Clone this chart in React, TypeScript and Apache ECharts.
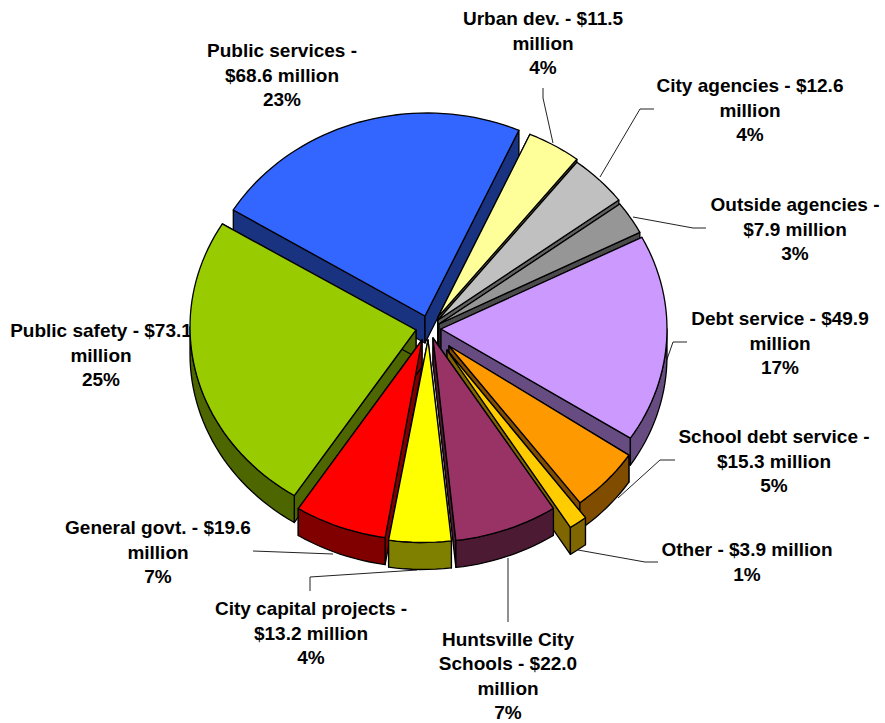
import React, { useEffect, useRef } from "react";
import * as echarts from "echarts";

// Data, clockwise from the top of the pie
const names = ["Urban dev.", "City agencies", "Outside agencies", "Debt service", "School debt service", "Other", "Huntsville City Schools", "City capital projects", "General govt.", "Public safety", "Public services"];
const values = [11.5, 12.6, 7.9, 49.9, 15.3, 3.9, 22.0, 13.2, 19.6, 73.1, 68.6];
const labelLines = [
  "Urban dev. - $11.5\nmillion\n4%",
  "City agencies - $12.6\nmillion\n4%",
  "Outside agencies -\n$7.9 million\n3%",
  "Debt service - $49.9\nmillion\n17%",
  "School debt service -\n$15.3 million\n5%",
  "Other - $3.9 million\n1%",
  "Huntsville City\nSchools - $22.0\nmillion\n7%",
  "City capital projects -\n$13.2 million\n4%",
  "General govt. - $19.6\nmillion\n7%",
  "Public safety - $73.1\nmillion\n25%",
  "Public services -\n$68.6 million\n23%",
];

// Styles and layout
const topColors = ["#FFFF99", "#C0C0C0", "#969696", "#CC99FF", "#FF9900", "#FFCC00", "#993366", "#FFFF00", "#FF0000", "#99CC00", "#3366FF"];
const sideColors = ["#808050", "#606060", "#4B4B4B", "#664C80", "#804C00", "#806600", "#4D1A33", "#808000", "#800000", "#4D6600", "#1A3380"];
const arcCenters = [[438, 317], [438, 320], [439, 324], [441, 329], [439.5, 346], [445, 361], [428, 342], [423.5, 342.5], [420, 340], [416, 327], [427, 313]];
const tips = [[438, 317], [438, 320], [439, 324], [441, 329], [449, 346], [447, 350], [433, 338], [428, 340], [422, 340], [416, 330], [425, 316]];
const paintOrder = [10, 0, 1, 2, 3, 9, 8, 7, 4, 5, 6];
const labelCenters = [[543, 43], [750, 110], [795, 229], [780, 343], [774, 461], [747, 562], [508, 676], [311, 633], [158, 552], [101, 355], [282, 75]];
const leaders = [
  [[553, 143], [543, 98], [543, 88]],
  [[600, 177], [640, 109], [654, 109]],
  [[633, 217], [693, 228], [706, 228]],
  [[665, 365], [673, 342], [687, 342]],
  [[618, 498], [660, 460], [675, 460]],
  [[578, 550], [645, 562], [658, 562]],
  [[508, 558], [508, 622]],
  [[417, 570], [310, 577], [310, 591]],
  [[333, 554], [253, 551]],
];
const RX = 226;
const RY = 200;
const DEPTH = 27;
const START_DEG = 24;
const FONT = "'Liberation Sans', Arial, sans-serif";

const total = values.reduce((a, b) => a + b, 0);
const startAngles: number[] = [];
values.reduce((acc, v, i) => {
  startAngles[i] = acc;
  return acc + (v / total) * 360;
}, START_DEG);

function pointAt(c: number[], deg: number, drop = 0) {
  const r = (deg * Math.PI) / 180;
  return [c[0] + RX * Math.sin(r), c[1] - RY * Math.cos(r) + drop];
}

function arc(c: number[], a: number, b: number, drop = 0) {
  const pts: number[][] = [];
  const n = Math.max(2, Math.ceil((b - a) / 2));
  for (let k = 0; k <= n; k++) pts.push(pointAt(c, a + ((b - a) * k) / n, drop));
  return pts;
}

function renderSlice(params: any, api: any) {
  const i = api.value(1) as number;
  const a = startAngles[i];
  const b = a + (values[i] / total) * 360;
  const c = arcCenters[i];
  const tip = tips[i];
  const edge = { stroke: "#000", lineWidth: 1.3, lineJoin: "round" };
  const side = { ...edge, fill: sideColors[i] };
  const face = (pts: number[][], style: any) => ({ type: "polygon", shape: { points: pts }, style });
  const low = [tip[0], tip[1] + DEPTH];
  const children: any[] = [];
  const wall = (deg: number) => {
    const p = pointAt(c, deg);
    return face([tip, p, [p[0], p[1] + DEPTH], low], side);
  };
  children.push(wall(a), wall(b));
  const from = Math.max(a, 90);
  const to = Math.min(b, 270);
  if (to > from) {
    children.push(face([...arc(c, from, to), ...arc(c, from, to, DEPTH).reverse()], side));
  }
  children.push(face([tip, ...arc(c, a, b)], { ...edge, fill: topColors[i] }));
  return { type: "group", children };
}

export default function App() {
  const ref = useRef<HTMLDivElement>(null);
  useEffect(() => {
    document.body.style.margin = "0";
    const chart = echarts.init(ref.current!, undefined, { renderer: "svg" });
    chart.setOption({
      animation: false,
      backgroundColor: "#fff",
      graphic: [
        ...leaders.map((pts) => ({
          type: "polyline",
          z: 0,
          shape: { points: pts },
          style: { stroke: "#222", lineWidth: 1, fill: "none" },
        })),
        ...labelLines.map((text, i) => ({
          type: "text",
          z: 0,
          x: labelCenters[i][0],
          y: labelCenters[i][1],
          style: {
            text,
            fill: "#000",
            font: `bold 19px ${FONT}`,
            fontFamily: FONT,
            fontWeight: "bold",
            fontSize: 19,
            lineHeight: 24.5,
            textAlign: "center",
            textVerticalAlign: "middle",
          },
        })),
      ],
      series: [
        {
          type: "custom",
          coordinateSystem: "none",
          z: 5,
          silent: true,
          renderItem: renderSlice,
          data: paintOrder.map((i) => ({ name: names[i], value: [values[i], i] })),
        },
      ],
    });
    return () => chart.dispose();
  }, []);
  return <div ref={ref} style={{ width: 885, height: 723 }} />;
}
